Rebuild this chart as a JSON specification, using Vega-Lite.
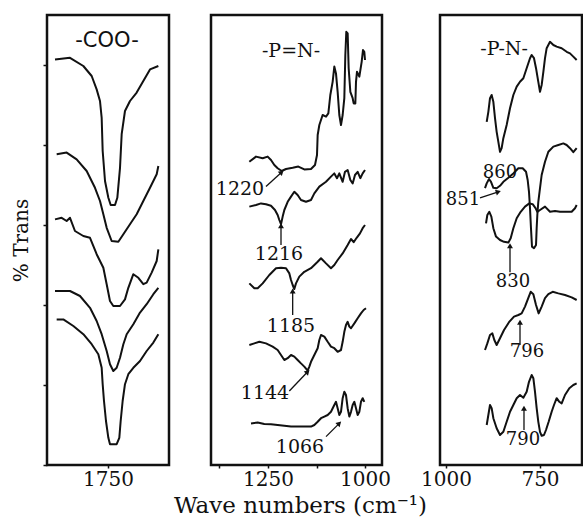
{
"$schema": "https://vega.github.io/schema/vega-lite/v6.json",
"background": "white",
"padding": {"left": 10, "top": 13, "right": 0, "bottom": 0},
"config": {"view": {"stroke": "#111", "strokeWidth": 2.5}, "font": "DejaVu Serif",
  "axis": {"grid": false, "domain": false, "tickColor": "#111", "labelColor": "#111", "titleColor": "#111", "labelFont": "DejaVu Serif", "titleFont": "DejaVu Serif", "titleFontWeight": "normal"}},
"datasets": {
"coo": [
{"s":"a","wn":1886.4,"t":101.4},{"s":"a","wn":1847.8,"t":101.8},{"s":"a","wn":1813.5,"t":99.75},{"s":"a","wn":1792,"t":97.25},{"s":"a","wn":1779.2,"t":93.9},{"s":"a","wn":1770.6,"t":91},{"s":"a","wn":1766.3,"t":86.8},{"s":"a","wn":1763.7,"t":78.5},{"s":"a","wn":1757.7,"t":71},{"s":"a","wn":1749.1,"t":66.8},{"s":"a","wn":1743.1,"t":65},{"s":"a","wn":1732,"t":65},{"s":"a","wn":1726,"t":66.8},{"s":"a","wn":1719.1,"t":74.3},{"s":"a","wn":1714.8,"t":82.7},{"s":"a","wn":1706.3,"t":88.5},{"s":"a","wn":1693.4,"t":91},{"s":"a","wn":1676.2,"t":93.1},{"s":"a","wn":1659.1,"t":96},{"s":"a","wn":1641.9,"t":98.9},{"s":"a","wn":1620.4,"t":99.75},
{"s":"b","wn":1882.1,"t":77.7},{"s":"b","wn":1856.4,"t":78.1},{"s":"b","wn":1830.7,"t":76.4},{"s":"b","wn":1804.9,"t":73.5},{"s":"b","wn":1783.5,"t":69.3},{"s":"b","wn":1770.6,"t":66},{"s":"b","wn":1762,"t":62.7},{"s":"b","wn":1753.4,"t":59.3},{"s":"b","wn":1740.6,"t":56},{"s":"b","wn":1723.4,"t":55.8},{"s":"b","wn":1710.5,"t":57.7},{"s":"b","wn":1693.4,"t":60.2},{"s":"b","wn":1676.2,"t":62.7},{"s":"b","wn":1659.1,"t":66},{"s":"b","wn":1641.9,"t":69.3},{"s":"b","wn":1624.7,"t":72.7},{"s":"b","wn":1620.4,"t":74.75},
{"s":"c","wn":1886.4,"t":61.4},{"s":"c","wn":1869.3,"t":61.8},{"s":"c","wn":1856.4,"t":61},{"s":"c","wn":1847.8,"t":61.8},{"s":"c","wn":1835,"t":58.5},{"s":"c","wn":1813.5,"t":57.25},{"s":"c","wn":1796.3,"t":56.8},{"s":"c","wn":1779.2,"t":52.7},{"s":"c","wn":1762,"t":49.3},{"s":"c","wn":1753.4,"t":45.2},{"s":"c","wn":1744.9,"t":41},{"s":"c","wn":1736.3,"t":39.75},{"s":"c","wn":1719.1,"t":39.75},{"s":"c","wn":1706.3,"t":41.4},{"s":"c","wn":1697.7,"t":44.3},{"s":"c","wn":1684.8,"t":47.7},{"s":"c","wn":1671.9,"t":46.8},{"s":"c","wn":1659.1,"t":45.2},{"s":"c","wn":1650.5,"t":45.6},{"s":"c","wn":1637.6,"t":48.1},{"s":"c","wn":1624.7,"t":51},{"s":"c","wn":1620.4,"t":53.9},
{"s":"d","wn":1886.4,"t":43.5},{"s":"d","wn":1847.8,"t":43.5},{"s":"d","wn":1822.1,"t":42.25},{"s":"d","wn":1796.3,"t":39.3},{"s":"d","wn":1779.2,"t":36},{"s":"d","wn":1766.3,"t":32.7},{"s":"d","wn":1753.4,"t":28.5},{"s":"d","wn":1744.9,"t":25.2},{"s":"d","wn":1736.3,"t":23.5},{"s":"d","wn":1727.7,"t":24.3},{"s":"d","wn":1719.1,"t":26.8},{"s":"d","wn":1710.5,"t":30.2},{"s":"d","wn":1701.9,"t":32.7},{"s":"d","wn":1684.8,"t":35.2},{"s":"d","wn":1667.6,"t":38.1},{"s":"d","wn":1650.5,"t":40.2},{"s":"d","wn":1633.3,"t":42.7},{"s":"d","wn":1620.4,"t":44.3},
{"s":"e","wn":1882.1,"t":36.4},{"s":"e","wn":1865,"t":36.4},{"s":"e","wn":1839.2,"t":34.75},{"s":"e","wn":1813.5,"t":32.7},{"s":"e","wn":1792,"t":30.2},{"s":"e","wn":1774.9,"t":27.7},{"s":"e","wn":1766.3,"t":24.3},{"s":"e","wn":1763.7,"t":20.2},{"s":"e","wn":1760.3,"t":16},{"s":"e","wn":1755.2,"t":11},{"s":"e","wn":1749.1,"t":6.8},{"s":"e","wn":1744.9,"t":5.2},{"s":"e","wn":1727.7,"t":5.2},{"s":"e","wn":1720.9,"t":6.8},{"s":"e","wn":1717.4,"t":11},{"s":"e","wn":1712.3,"t":16},{"s":"e","wn":1706.3,"t":20.2},{"s":"e","wn":1697.7,"t":22.7},{"s":"e","wn":1684.8,"t":24.3},{"s":"e","wn":1667.6,"t":26},{"s":"e","wn":1650.5,"t":28.5},{"s":"e","wn":1633.3,"t":30.6},{"s":"e","wn":1620.4,"t":32.7}
],
"peqn": [
{"s":"a","wn":1298.1,"t":75.8},{"s":"a","wn":1280.9,"t":77.1},{"s":"a","wn":1263.7,"t":76.7},{"s":"a","wn":1250.9,"t":77.1},{"s":"a","wn":1242.3,"t":76.25},{"s":"a","wn":1233.7,"t":75},{"s":"a","wn":1225.1,"t":74.2},{"s":"a","wn":1214.8,"t":73.5},{"s":"a","wn":1203.6,"t":74},{"s":"a","wn":1186.4,"t":74.3},{"s":"a","wn":1171.8,"t":74.6},{"s":"a","wn":1156.4,"t":73.9},{"s":"a","wn":1139.2,"t":74},{"s":"a","wn":1128.9,"t":75},{"s":"a","wn":1123.7,"t":77.5},{"s":"a","wn":1122,"t":82.5},{"s":"a","wn":1117.7,"t":85},{"s":"a","wn":1109.2,"t":87.5},{"s":"a","wn":1100.5,"t":87.1},{"s":"a","wn":1094.5,"t":87.9},{"s":"a","wn":1089.4,"t":92.5},{"s":"a","wn":1083.4,"t":95.8},{"s":"a","wn":1079.1,"t":99.6},{"s":"a","wn":1074.8,"t":97.9},{"s":"a","wn":1070.5,"t":93.3},{"s":"a","wn":1066.2,"t":87.5},{"s":"a","wn":1061.9,"t":85},{"s":"a","wn":1057.6,"t":87.5},{"s":"a","wn":1053.3,"t":91.7},{"s":"a","wn":1050.7,"t":102.5},{"s":"a","wn":1048.2,"t":108.3},{"s":"a","wn":1044.7,"t":107.9},{"s":"a","wn":1042.1,"t":99.2},{"s":"a","wn":1037.8,"t":93.3},{"s":"a","wn":1031.8,"t":91.7},{"s":"a","wn":1029.2,"t":90.4},{"s":"a","wn":1024.9,"t":90.4},{"s":"a","wn":1023.2,"t":95.8},{"s":"a","wn":1020.7,"t":98.3},{"s":"a","wn":1014.6,"t":97.1},{"s":"a","wn":1008.6,"t":100.8},{"s":"a","wn":1005.2,"t":103.75},{"s":"a","wn":1001.8,"t":103.3},{"s":"a","wn":1000,"t":101.25},
{"s":"b","wn":1298.1,"t":64.6},{"s":"b","wn":1280.9,"t":65},{"s":"b","wn":1268.1,"t":65.4},{"s":"b","wn":1255.2,"t":65.2},{"s":"b","wn":1242.3,"t":64.8},{"s":"b","wn":1232,"t":63.75},{"s":"b","wn":1225.1,"t":62.5},{"s":"b","wn":1220.8,"t":61.25},{"s":"b","wn":1216.5,"t":60.2},{"s":"b","wn":1212.2,"t":62.1},{"s":"b","wn":1207.9,"t":63.75},{"s":"b","wn":1199.3,"t":65.8},{"s":"b","wn":1190.7,"t":67.1},{"s":"b","wn":1182.2,"t":68.3},{"s":"b","wn":1173.6,"t":67.5},{"s":"b","wn":1165,"t":66.25},{"s":"b","wn":1152.1,"t":65.8},{"s":"b","wn":1139.2,"t":66.25},{"s":"b","wn":1130.6,"t":67.9},{"s":"b","wn":1117.7,"t":69.6},{"s":"b","wn":1100.5,"t":70.8},{"s":"b","wn":1087.7,"t":72.1},{"s":"b","wn":1079.1,"t":72.9},{"s":"b","wn":1072.2,"t":71.7},{"s":"b","wn":1066.2,"t":72.9},{"s":"b","wn":1057.6,"t":70.8},{"s":"b","wn":1051.6,"t":73.3},{"s":"b","wn":1044.7,"t":73.75},{"s":"b","wn":1037.8,"t":71.25},{"s":"b","wn":1031.8,"t":70.4},{"s":"b","wn":1025.8,"t":72.5},{"s":"b","wn":1018.9,"t":73.3},{"s":"b","wn":1012.1,"t":71.7},{"s":"b","wn":1006,"t":72.9},{"s":"b","wn":1000,"t":73.75},
{"s":"c","wn":1298.1,"t":45.4},{"s":"c","wn":1285.2,"t":44.2},{"s":"c","wn":1276.6,"t":44.2},{"s":"c","wn":1263.7,"t":45.4},{"s":"c","wn":1246.6,"t":47.5},{"s":"c","wn":1229.4,"t":49.2},{"s":"c","wn":1216.5,"t":49.3},{"s":"c","wn":1203.6,"t":49.2},{"s":"c","wn":1195,"t":47.9},{"s":"c","wn":1190.7,"t":46.25},{"s":"c","wn":1186.4,"t":45},{"s":"c","wn":1182.2,"t":44},{"s":"c","wn":1177.9,"t":45.4},{"s":"c","wn":1169.3,"t":47.1},{"s":"c","wn":1156.4,"t":48.3},{"s":"c","wn":1139.2,"t":49.2},{"s":"c","wn":1122,"t":50.8},{"s":"c","wn":1113.4,"t":51.7},{"s":"c","wn":1100.5,"t":50.4},{"s":"c","wn":1087.7,"t":49.2},{"s":"c","wn":1079.1,"t":50},{"s":"c","wn":1070.5,"t":51.25},{"s":"c","wn":1057.6,"t":52.9},{"s":"c","wn":1044.7,"t":55},{"s":"c","wn":1036.1,"t":56.5},{"s":"c","wn":1029.2,"t":55.7},{"s":"c","wn":1021.5,"t":56.8},{"s":"c","wn":1012.9,"t":57.9},{"s":"c","wn":1006,"t":59.2},{"s":"c","wn":1000,"t":60},
{"s":"d","wn":1298.1,"t":30},{"s":"d","wn":1285.2,"t":30.4},{"s":"d","wn":1272.3,"t":30.8},{"s":"d","wn":1255.2,"t":30.4},{"s":"d","wn":1238,"t":29.6},{"s":"d","wn":1225.1,"t":28.75},{"s":"d","wn":1216.5,"t":27.5},{"s":"d","wn":1207.9,"t":26.25},{"s":"d","wn":1199.3,"t":26.7},{"s":"d","wn":1190.7,"t":27.5},{"s":"d","wn":1182.2,"t":27.1},{"s":"d","wn":1173.6,"t":26.25},{"s":"d","wn":1165,"t":25.4},{"s":"d","wn":1156.4,"t":24.6},{"s":"d","wn":1147.8,"t":23.6},{"s":"d","wn":1143.5,"t":24.6},{"s":"d","wn":1139.2,"t":25.8},{"s":"d","wn":1130.6,"t":27.5},{"s":"d","wn":1122,"t":29.2},{"s":"d","wn":1117.7,"t":31.25},{"s":"d","wn":1113.4,"t":32.5},{"s":"d","wn":1104.8,"t":32.1},{"s":"d","wn":1096.2,"t":30.8},{"s":"d","wn":1087.7,"t":29.6},{"s":"d","wn":1079.1,"t":29.2},{"s":"d","wn":1070.5,"t":28.3},{"s":"d","wn":1061.9,"t":28.75},{"s":"d","wn":1057.6,"t":30.8},{"s":"d","wn":1053.3,"t":33.3},{"s":"d","wn":1049,"t":35},{"s":"d","wn":1044.7,"t":35.8},{"s":"d","wn":1040.4,"t":34.6},{"s":"d","wn":1036.1,"t":34.2},{"s":"d","wn":1027.5,"t":35.4},{"s":"d","wn":1018.9,"t":36.7},{"s":"d","wn":1010.4,"t":37.9},{"s":"d","wn":1003.5,"t":38.75},{"s":"d","wn":997.5,"t":39.2},
{"s":"e","wn":1293.8,"t":10.4},{"s":"e","wn":1276.6,"t":10.6},{"s":"e","wn":1259.5,"t":10.25},{"s":"e","wn":1242.3,"t":10.2},{"s":"e","wn":1225.1,"t":10},{"s":"e","wn":1207.9,"t":9.8},{"s":"e","wn":1190.7,"t":9.6},{"s":"e","wn":1173.6,"t":9.6},{"s":"e","wn":1156.4,"t":9.6},{"s":"e","wn":1139.2,"t":9.6},{"s":"e","wn":1130.6,"t":10},{"s":"e","wn":1122,"t":10.8},{"s":"e","wn":1113.4,"t":11.7},{"s":"e","wn":1104.8,"t":12.1},{"s":"e","wn":1096.2,"t":12.5},{"s":"e","wn":1087.7,"t":13.3},{"s":"e","wn":1079.1,"t":15},{"s":"e","wn":1074.8,"t":15.8},{"s":"e","wn":1070.5,"t":14.2},{"s":"e","wn":1066.2,"t":12.5},{"s":"e","wn":1061.9,"t":13.3},{"s":"e","wn":1057.6,"t":16.7},{"s":"e","wn":1053.3,"t":18.3},{"s":"e","wn":1049,"t":17.5},{"s":"e","wn":1044.7,"t":14.2},{"s":"e","wn":1040.4,"t":12.1},{"s":"e","wn":1036.1,"t":13.3},{"s":"e","wn":1031.8,"t":15},{"s":"e","wn":1027.5,"t":15.8},{"s":"e","wn":1023.2,"t":14.2},{"s":"e","wn":1018.9,"t":12.5},{"s":"e","wn":1014.6,"t":13.3},{"s":"e","wn":1010.4,"t":15.8},{"s":"e","wn":1006,"t":16.7},{"s":"e","wn":1001.8,"t":15.8}
],
"pn": [
{"s":"a","wn":891.8,"t":85.8},{"s":"a","wn":887.4,"t":88.3},{"s":"a","wn":883,"t":91.7},{"s":"a","wn":878.6,"t":92.5},{"s":"a","wn":874.1,"t":90.8},{"s":"a","wn":869.7,"t":86.7},{"s":"a","wn":865.3,"t":83.3},{"s":"a","wn":860.8,"t":80.8},{"s":"a","wn":856.4,"t":78.3},{"s":"a","wn":852,"t":79.2},{"s":"a","wn":847.5,"t":81.7},{"s":"a","wn":838.7,"t":85},{"s":"a","wn":829.8,"t":89.2},{"s":"a","wn":820.9,"t":92.5},{"s":"a","wn":812,"t":94.6},{"s":"a","wn":803.2,"t":95.8},{"s":"a","wn":794.3,"t":96.7},{"s":"a","wn":785.5,"t":99.2},{"s":"a","wn":776.6,"t":101.7},{"s":"a","wn":772.2,"t":102.5},{"s":"a","wn":766,"t":101.7},{"s":"a","wn":760.6,"t":99.2},{"s":"a","wn":754.5,"t":95.8},{"s":"a","wn":750,"t":93.3},{"s":"a","wn":745.6,"t":95},{"s":"a","wn":741.1,"t":98.3},{"s":"a","wn":736.7,"t":101.7},{"s":"a","wn":732.3,"t":104.2},{"s":"a","wn":723.4,"t":105.8},{"s":"a","wn":714.5,"t":105},{"s":"a","wn":705.7,"t":104.6},{"s":"a","wn":692.4,"t":104.2},{"s":"a","wn":679.1,"t":103.3},{"s":"a","wn":670.2,"t":102.9},{"s":"a","wn":661.4,"t":102.1},{"s":"a","wn":652.5,"t":101.25},
{"s":"b","wn":896.3,"t":69.2},{"s":"b","wn":891.8,"t":70.4},{"s":"b","wn":885.6,"t":71.5},{"s":"b","wn":880.3,"t":70.8},{"s":"b","wn":874.1,"t":69.3},{"s":"b","wn":865.3,"t":69.2},{"s":"b","wn":856.4,"t":69.8},{"s":"b","wn":847.5,"t":70.8},{"s":"b","wn":834.2,"t":71.8},{"s":"b","wn":820.9,"t":72.9},{"s":"b","wn":807.6,"t":74.2},{"s":"b","wn":796.1,"t":74.2},{"s":"b","wn":787.2,"t":73.3},{"s":"b","wn":782.8,"t":71.25},{"s":"b","wn":779.3,"t":68.3},{"s":"b","wn":776.6,"t":64.2},{"s":"b","wn":774,"t":59.2},{"s":"b","wn":771.3,"t":54.6},{"s":"b","wn":766,"t":54.2},{"s":"b","wn":760.6,"t":55},{"s":"b","wn":758.9,"t":59.2},{"s":"b","wn":757.1,"t":62.5},{"s":"b","wn":754.5,"t":65.8},{"s":"b","wn":750,"t":69.2},{"s":"b","wn":745.6,"t":72.5},{"s":"b","wn":736.7,"t":75.8},{"s":"b","wn":727.8,"t":78.3},{"s":"b","wn":714.5,"t":79.6},{"s":"b","wn":701.2,"t":80},{"s":"b","wn":687.9,"t":80.4},{"s":"b","wn":679.1,"t":80},{"s":"b","wn":670.2,"t":79.2},{"s":"b","wn":661.4,"t":78.2},{"s":"b","wn":652.5,"t":79.2},
{"s":"c","wn":893.6,"t":60.4},{"s":"c","wn":890.1,"t":62.5},{"s":"c","wn":884.8,"t":63.3},{"s":"c","wn":879.4,"t":62.1},{"s":"c","wn":874.1,"t":59.2},{"s":"c","wn":867,"t":57.1},{"s":"c","wn":856.4,"t":56.25},{"s":"c","wn":845.7,"t":55.8},{"s":"c","wn":834.2,"t":55.6},{"s":"c","wn":828,"t":56.7},{"s":"c","wn":820.9,"t":59.2},{"s":"c","wn":812,"t":61.7},{"s":"c","wn":801.4,"t":63.3},{"s":"c","wn":789.9,"t":64.6},{"s":"c","wn":778.4,"t":65.4},{"s":"c","wn":769.5,"t":65.2},{"s":"c","wn":762.4,"t":64.3},{"s":"c","wn":757.1,"t":63.3},{"s":"c","wn":750,"t":63.75},{"s":"c","wn":736.7,"t":64.6},{"s":"c","wn":723.4,"t":63.3},{"s":"c","wn":710.1,"t":63.5},{"s":"c","wn":696.8,"t":63.3},{"s":"c","wn":679.1,"t":63.3},{"s":"c","wn":665.8,"t":63.3},{"s":"c","wn":656.9,"t":64.2},{"s":"c","wn":652.5,"t":65},
{"s":"d","wn":896.3,"t":28.75},{"s":"d","wn":890.1,"t":30.4},{"s":"d","wn":883,"t":32.5},{"s":"d","wn":876.8,"t":32.9},{"s":"d","wn":871.5,"t":31.25},{"s":"d","wn":865.3,"t":30},{"s":"d","wn":856.4,"t":31.7},{"s":"d","wn":845.7,"t":33.75},{"s":"d","wn":832.5,"t":35.7},{"s":"d","wn":819.2,"t":37.1},{"s":"d","wn":807.6,"t":37.5},{"s":"d","wn":798.8,"t":37.9},{"s":"d","wn":789.9,"t":39.6},{"s":"d","wn":781,"t":41.8},{"s":"d","wn":774.8,"t":43.3},{"s":"d","wn":767.7,"t":42.7},{"s":"d","wn":760.6,"t":40},{"s":"d","wn":753.6,"t":37.9},{"s":"d","wn":745.6,"t":39.6},{"s":"d","wn":736.7,"t":41.7},{"s":"d","wn":727.8,"t":42.7},{"s":"d","wn":716.3,"t":43.3},{"s":"d","wn":701.2,"t":42.9},{"s":"d","wn":683.5,"t":42.5},{"s":"d","wn":665.8,"t":41.9},{"s":"d","wn":652.5,"t":41.25},
{"s":"e","wn":891.8,"t":10},{"s":"e","wn":887.4,"t":12.5},{"s":"e","wn":883,"t":15},{"s":"e","wn":878.6,"t":14.2},{"s":"e","wn":874.1,"t":11.7},{"s":"e","wn":865.3,"t":9.2},{"s":"e","wn":856.4,"t":7.5},{"s":"e","wn":847.5,"t":8.3},{"s":"e","wn":838.7,"t":10.8},{"s":"e","wn":829.8,"t":13.3},{"s":"e","wn":820.9,"t":15},{"s":"e","wn":812,"t":16.7},{"s":"e","wn":803.2,"t":17.5},{"s":"e","wn":794.3,"t":16.8},{"s":"e","wn":785.5,"t":18.3},{"s":"e","wn":779.3,"t":20.8},{"s":"e","wn":772.2,"t":22.5},{"s":"e","wn":767.7,"t":21.7},{"s":"e","wn":763.3,"t":18.3},{"s":"e","wn":758.9,"t":14.2},{"s":"e","wn":754.5,"t":10.8},{"s":"e","wn":750,"t":8.3},{"s":"e","wn":745.6,"t":7.3},{"s":"e","wn":739.4,"t":7.5},{"s":"e","wn":734.1,"t":8.75},{"s":"e","wn":727,"t":10.8},{"s":"e","wn":719,"t":13.3},{"s":"e","wn":712.8,"t":15},{"s":"e","wn":705.7,"t":16.7},{"s":"e","wn":698.6,"t":15.8},{"s":"e","wn":692.4,"t":15.4},{"s":"e","wn":683.5,"t":17.5},{"s":"e","wn":672,"t":19.2},{"s":"e","wn":661.4,"t":20},{"s":"e","wn":652.5,"t":20.4}
],
"titles": [
{"p":"COO","label":"-COO-","wn":1752.6,"t":106},
{"p":"PN2","label":"-P=N-","wn":1190.7,"t":103.5},
{"p":"PN","label":"-P-N-","wn":845.7,"t":104}
],
"labels": [
{"p":"PN2","label":"1220","wn":1322.2,"t":69},
{"p":"PN2","label":"1216","wn":1221.7,"t":52.75},
{"p":"PN2","label":"1185","wn":1190.7,"t":34.75},
{"p":"PN2","label":"1144","wn":1257.7,"t":18},
{"p":"PN2","label":"1066","wn":1167.5,"t":4.5},
{"p":"PN","label":"860","wn":856.4,"t":73},
{"p":"PN","label":"851","wn":954.8,"t":66.25},
{"p":"PN","label":"830","wn":821.8,"t":45.75},
{"p":"PN","label":"796","wn":784.5,"t":28.25},
{"p":"PN","label":"790","wn":795.2,"t":6.25}
],
"arrows": [
{"p":"PN2","wn":1255.2,"t":69.6,"wn2":1214.8,"t2":73.2,"ang":47},
{"p":"PN2","wn":1216.5,"t":55,"wn2":1216.5,"t2":59.8,"ang":0},
{"p":"PN2","wn":1186.4,"t":37.5,"wn2":1186.4,"t2":43.5,"ang":0},
{"p":"PN2","wn":1195,"t":18.5,"wn2":1147.8,"t2":23.3,"ang":44},
{"p":"PN2","wn":1100.5,"t":7.1,"wn2":1066.2,"t2":10.4,"ang":45},
{"p":"PN","wn":909.6,"t":66.8,"wn2":860.8,"t2":68.3,"ang":72},
{"p":"PN","wn":829.8,"t":48.2,"wn2":829.8,"t2":54.8,"ang":0},
{"p":"PN","wn":803.2,"t":30,"wn2":803.2,"t2":35.7,"ang":0},
{"p":"PN","wn":792.6,"t":8.75,"wn2":792.6,"t2":14.2,"ang":0}
]
},
"bounds": "flush",
"spacing": 42,
"hconcat": [
{
 "width": 122, "height": 450,
 "layer": [
  {"data": {"name": "coo"},
   "mark": {"type": "line", "color": "#111", "strokeWidth": 2, "strokeJoin": "round"},
   "encoding": {
    "x": {"field": "wn", "type": "quantitative", "scale": {"domain": [1593, 1907], "reverse": true, "nice": false, "zero": false},
      "axis": {"values": [1750], "format": "d", "title": null, "tickSize": 3, "tickWidth": 1.5, "labelPadding": 1, "labelFontSize": 20}},
    "y": {"field": "t", "type": "quantitative", "scale": {"domain": [0, 112.5], "nice": false, "zero": false},
      "axis": {"values": [0, 20, 40, 60, 80, 100], "labels": false, "title": "% Trans", "titleFontSize": 20, "tickSize": 4, "tickWidth": 1.5, "titlePadding": 11}},
    "detail": {"field": "s"},
    "order": {"value": null}}},
  {"data": {"name": "titles"}, "transform": [{"filter": "datum.p == 'COO'"}],
   "mark": {"type": "text", "font": "DejaVu Sans", "fontSize": 21, "color": "#111", "baseline": "middle"},
   "encoding": {"x": {"field": "wn", "type": "quantitative"}, "y": {"field": "t", "type": "quantitative"}, "text": {"field": "label"}}}
 ]
},
{
 "bounds": "flush",
 "spacing": 58,
 "hconcat": [
 {
  "width": 171, "height": 450,
  "layer": [
   {"data": {"name": "peqn"},
    "mark": {"type": "line", "color": "#111", "strokeWidth": 2, "strokeJoin": "round"},
    "encoding": {
     "x": {"field": "wn", "type": "quantitative", "scale": {"domain": [956.2, 1396.9], "reverse": true, "nice": false, "zero": false},
       "axis": {"values": [1375, 1250, 1125, 1000], "format": "d", "labelExpr": "datum.value == 1250 || datum.value == 1000 ? datum.label : ''", "tickSize": 3, "tickWidth": 1.5, "labelPadding": 1, "labelFontSize": 20,
         "title": "Wave numbers (cm⁻¹)", "titleFontSize": 23, "titlePadding": 5, "titleX": 89}},
     "y": {"field": "t", "type": "quantitative", "scale": {"domain": [0, 112.5], "nice": false, "zero": false}, "axis": null},
     "detail": {"field": "s"},
     "order": {"value": null}}},
   {"data": {"name": "titles"}, "transform": [{"filter": "datum.p == 'PN2'"}],
    "mark": {"type": "text", "fontSize": 19, "color": "#111", "baseline": "middle"},
    "encoding": {"x": {"field": "wn", "type": "quantitative"}, "y": {"field": "t", "type": "quantitative"}, "text": {"field": "label"}}},
   {"data": {"name": "labels"}, "transform": [{"filter": "datum.p == 'PN2'"}],
    "mark": {"type": "text", "fontSize": 19, "color": "#111", "baseline": "middle"},
    "encoding": {"x": {"field": "wn", "type": "quantitative"}, "y": {"field": "t", "type": "quantitative"}, "text": {"field": "label"}}},
   {"data": {"name": "arrows"}, "transform": [{"filter": "datum.p == 'PN2'"}],
    "mark": {"type": "rule", "color": "#111", "strokeWidth": 1.3},
    "encoding": {"x": {"field": "wn", "type": "quantitative"}, "y": {"field": "t", "type": "quantitative"}, "x2": {"field": "wn2"}, "y2": {"field": "t2"}}},
   {"data": {"name": "arrows"}, "transform": [{"filter": "datum.p == 'PN2'"}],
    "mark": {"type": "point", "shape": "triangle-up", "filled": true, "size": 35, "color": "#111", "opacity": 1},
    "encoding": {"x": {"field": "wn2", "type": "quantitative"}, "y": {"field": "t2", "type": "quantitative"}, "angle": {"field": "ang", "type": "quantitative", "scale": null}}}
  ]
 },
 {
  "width": 142, "height": 450,
  "layer": [
   {"data": {"name": "pn"},
    "mark": {"type": "line", "color": "#111", "strokeWidth": 2, "strokeJoin": "round"},
    "encoding": {
     "x": {"field": "wn", "type": "quantitative", "scale": {"domain": [638.3, 1016], "reverse": true, "nice": false, "zero": false},
       "axis": {"values": [1000, 750], "format": "d", "title": null, "tickSize": 3, "tickWidth": 1.5, "labelPadding": 1, "labelFontSize": 20}},
     "y": {"field": "t", "type": "quantitative", "scale": {"domain": [0, 112.5], "nice": false, "zero": false}, "axis": null},
     "detail": {"field": "s"},
     "order": {"value": null}}},
   {"data": {"name": "titles"}, "transform": [{"filter": "datum.p == 'PN'"}],
    "mark": {"type": "text", "fontSize": 19, "color": "#111", "baseline": "middle"},
    "encoding": {"x": {"field": "wn", "type": "quantitative"}, "y": {"field": "t", "type": "quantitative"}, "text": {"field": "label"}}},
   {"data": {"name": "labels"}, "transform": [{"filter": "datum.p == 'PN'"}],
    "mark": {"type": "text", "fontSize": 18, "color": "#111", "baseline": "middle"},
    "encoding": {"x": {"field": "wn", "type": "quantitative"}, "y": {"field": "t", "type": "quantitative"}, "text": {"field": "label"}}},
   {"data": {"name": "arrows"}, "transform": [{"filter": "datum.p == 'PN'"}],
    "mark": {"type": "rule", "color": "#111", "strokeWidth": 1.3},
    "encoding": {"x": {"field": "wn", "type": "quantitative"}, "y": {"field": "t", "type": "quantitative"}, "x2": {"field": "wn2"}, "y2": {"field": "t2"}}},
   {"data": {"name": "arrows"}, "transform": [{"filter": "datum.p == 'PN'"}],
    "mark": {"type": "point", "shape": "triangle-up", "filled": true, "size": 35, "color": "#111", "opacity": 1},
    "encoding": {"x": {"field": "wn2", "type": "quantitative"}, "y": {"field": "t2", "type": "quantitative"}, "angle": {"field": "ang", "type": "quantitative", "scale": null}}}
  ]
 }
 ]
}
]
}
